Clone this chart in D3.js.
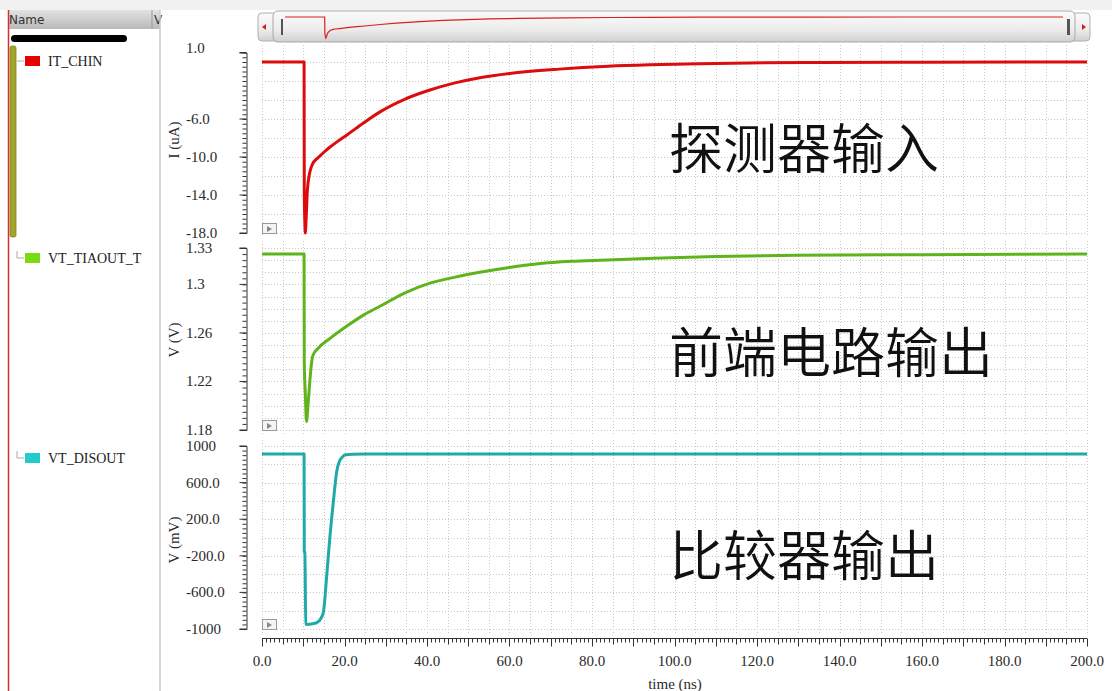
<!DOCTYPE html>
<html>
<head>
<meta charset="utf-8">
<script src="https://cdn.jsdelivr.net/npm/d3@7"></script>
<style>
  body { margin: 0; background: #fff; }
  svg { display: block; }
</style>
</head>
<body>
<svg id="chart" width="1112" height="691"></svg>
<script>
// ---------------- DATA ----------------
const seriesNames = ["IT_CHIN", "VT_TIAOUT_T", "VT_DISOUT"];
const panelTitles = ["探测器输入", "前端电路输出", "比较器输出"];
const yAxisTitles = ["I (uA)", "V (V)", "V (mV)"];
const xTickValues = [0, 20, 40, 60, 80, 100, 120, 140, 160, 180, 200];
const xTickLabels = ["0.0", "20.0", "40.0", "60.0", "80.0", "100.0", "120.0", "140.0", "160.0", "180.0", "200.0"];
const xTitle = "time (ns)";

// IT_CHIN (uA)
const chinTime = [0, 10.2, 10.25, 10.4, 10.5, 10.7, 11.0, 11.5, 12.0, 12.4, 13, 14, 15, 16.5, 18.5, 20.5, 24.5, 28.6, 34.7, 40.7, 46.8, 52.8, 60, 72, 84, 94, 106, 118, 135, 160, 200];
const chinValue = [0, 0, -13.8, -17.0, -18.0, -16.5, -13.5, -11.8, -11.0, -10.6, -10.3, -9.9, -9.5, -8.95, -8.3, -7.7, -6.45, -5.25, -3.9, -2.95, -2.2, -1.65, -1.2, -0.75, -0.45, -0.3, -0.18, -0.1, -0.05, -0.02, 0];
const chinDomain = [-18, 1];
const chinTicks = [1, -6, -10, -14, -18];
const chinTickLabels = ["1.0", "-6.0", "-10.0", "-14.0", "-18.0"];

// VT_TIAOUT_T (V)
const tiaTime = [0, 10.2, 10.25, 10.5, 10.8, 11.1, 11.5, 12.0, 12.4, 13.5, 16.5, 20.5, 24.5, 28.6, 34.7, 40.7, 46.8, 52.8, 60, 67, 75, 82, 95, 110, 130, 160, 200];
const tiaValue = [1.325, 1.325, 1.236, 1.21, 1.187, 1.198, 1.216, 1.235, 1.242, 1.247, 1.2555, 1.2655, 1.2745, 1.282, 1.293, 1.301, 1.306, 1.310, 1.314, 1.317, 1.319, 1.320, 1.3215, 1.323, 1.324, 1.3245, 1.325];
const tiaDomain = [1.18, 1.33];
const tiaTicks = [1.33, 1.3, 1.26, 1.22, 1.18];
const tiaTickLabels = ["1.33", "1.3", "1.26", "1.22", "1.18"];

// VT_DISOUT (mV)
const disTime = [0, 10.2, 10.25, 10.4, 10.6, 11, 12, 13.3, 14.2, 14.9, 15.7, 16.5, 17.3, 18.1, 18.9, 19.5, 20.1, 22, 25, 40, 200];
const disValue = [912, 912, -155, -160, -945, -950, -945, -930, -890, -811, -410, 27, 391, 719, 847, 880, 902, 910, 912, 912, 912];
const disDomain = [-1000, 1000];
const disTicks = [1000, 600, 200, -200, -600, -1000];
const disTickLabels = ["1000", "600.0", "200.0", "-200.0", "-600.0", "-1000"];

// ---------------- LAYOUT ----------------
const svg = d3.select("#chart");
const serif = "'Liberation Serif', 'DejaVu Serif', serif";
const colors = ["#dc0c0c", "#5fb41c", "#1faaaa"];
const legendColors = ["#e60000", "#77dd11", "#22cccc"];

const x = d3.scaleLinear().domain([0, 200]).range([262, 1087]);

const panels = [
  { time: chinTime, value: chinValue, domain: chinDomain, range: [233, 52.5], frame: [45, 237], ticks: chinTicks, labels: chinTickLabels, grid: 2, minor: 0.5, titleY: 140, textY: 150, legendY: 61, topShift: -5 },
  { time: tiaTime, value: tiaValue, domain: tiaDomain, range: [430, 248], frame: [241, 434], ticks: tiaTicks, labels: tiaTickLabels, grid: 0.01, minor: 0.005, titleY: 340, textY: 354, legendY: 258, topShift: 0 },
  { time: disTime, value: disValue, domain: disDomain, range: [629, 446], frame: [440, 633], ticks: disTicks, labels: disTickLabels, grid: 200, minor: 50, titleY: 540, textY: 557, legendY: 458, topShift: 0 }
];

// top strip
svg.append("rect").attr("x", 0).attr("y", 0).attr("width", 1112).attr("height", 10).attr("fill", "#f1f1f1");

// ---------------- SIDEBAR ----------------
const defs = svg.append("defs");
const hg = defs.append("linearGradient").attr("id", "hdr").attr("x1", 0).attr("x2", 0).attr("y1", 0).attr("y2", 1);
hg.append("stop").attr("offset", "0%").attr("stop-color", "#e2e2e2");
hg.append("stop").attr("offset", "100%").attr("stop-color", "#b9b9b9");
svg.append("rect").attr("x", 8).attr("y", 10).attr("width", 152).attr("height", 19).attr("fill", "url(#hdr)");
svg.append("line").attr("x1", 152).attr("x2", 152).attr("y1", 10).attr("y2", 29).attr("stroke", "#999");
svg.append("text").attr("x", 9).attr("y", 24).attr("font-family", "'DejaVu Sans', sans-serif").attr("font-size", 12).attr("fill", "#333").text("Name");
svg.append("text").attr("x", 154).attr("y", 24).attr("font-family", "'DejaVu Sans', sans-serif").attr("font-size", 12).attr("fill", "#333").text("V");
svg.append("line").attr("x1", 8.5).attr("x2", 8.5).attr("y1", 10).attr("y2", 691).attr("stroke", "#d43030").attr("stroke-width", 1.5);
svg.append("line").attr("x1", 160).attr("x2", 160).attr("y1", 10).attr("y2", 691).attr("stroke", "#c8c8c8").attr("stroke-width", 1.5);
svg.append("rect").attr("x", 11).attr("y", 35).attr("width", 116).attr("height", 7).attr("rx", 3.5).attr("fill", "#000");
svg.append("rect").attr("x", 10).attr("y", 46).attr("width", 6).attr("height", 191).attr("rx", 2).attr("fill", "#a3a52a").attr("stroke", "#808418").attr("stroke-width", 0.8);

panels.forEach((p, i) => {
  const ly = p.legendY;
  if (i === 0) {
    svg.append("line").attr("x1", 17).attr("x2", 24).attr("y1", ly).attr("y2", ly).attr("stroke", "#aaa");
  } else {
    svg.append("path").attr("d", `M17,${ly - 7}V${ly}H24`).attr("fill", "none").attr("stroke", "#aaa");
  }
  svg.append("rect").attr("x", 25).attr("y", ly - 5).attr("width", 15).attr("height", 10).attr("fill", legendColors[i]);
  svg.append("text").attr("x", 48).attr("y", ly + 5).attr("font-family", serif).attr("font-size", 14).attr("fill", "#222").text(seriesNames[i]);
});

// ---------------- SCROLLBAR ----------------
const sg = defs.append("linearGradient").attr("id", "sb").attr("x1", 0).attr("x2", 0).attr("y1", 0).attr("y2", 1);
sg.append("stop").attr("offset", "0%").attr("stop-color", "#fbfbfb");
sg.append("stop").attr("offset", "60%").attr("stop-color", "#ececec");
sg.append("stop").attr("offset", "100%").attr("stop-color", "#d0d0d0");
svg.append("rect").attr("x", 258).attr("y", 13).attr("width", 832).attr("height", 28).attr("rx", 4).attr("fill", "url(#sb)").attr("stroke", "#b0b0b0");
svg.append("rect").attr("x", 273).attr("y", 11).attr("width", 802).attr("height", 31).attr("rx", 5).attr("fill", "url(#sb)").attr("stroke", "#a8a8a8");
svg.append("path").attr("d", "M262,27 l4,-3 v6 z").attr("fill", "#d02020");
svg.append("path").attr("d", "M1086,27 l-4,-3 v6 z").attr("fill", "#d02020");
svg.append("rect").attr("x", 281).attr("y", 19).attr("width", 2).attr("height", 16).attr("fill", "#555");
svg.append("rect").attr("x", 1067).attr("y", 19).attr("width", 3).attr("height", 16).attr("fill", "#555");
const mx = d3.scaleLinear().domain([0, 200]).range([285, 1063]);
const my = d3.scaleLinear().domain([-18, 0]).range([38, 17]);
svg.append("path").datum(chinTime.map((t, k) => [t, chinValue[k]]))
  .attr("d", d3.line().x(d => mx(d[0])).y(d => my(d[1])))
  .attr("fill", "none").attr("stroke", "#d82020").attr("stroke-width", 1.2);

// ---------------- PANELS ----------------
panels.forEach((p, i) => {
  const y = d3.scaleLinear().domain(p.domain).range(p.range);
  const g = svg.append("g");
  // vertical grid every 5 ns
  g.append("g").selectAll("line").data(d3.range(0, 200.1, 5)).join("line")
    .attr("x1", d => Math.round(x(d)) + 0.5).attr("x2", d => Math.round(x(d)) + 0.5)
    .attr("y1", p.frame[0]).attr("y2", p.frame[1])
    .attr("stroke", "#c8c8c8").attr("stroke-dasharray", "1,2");
  // horizontal grid
  const hv = d3.range(Math.ceil(p.domain[0] / p.grid), Math.floor(p.domain[1] / p.grid + 1e-9) + 1).map(k => k * p.grid);
  g.append("g").selectAll("line").data(hv).join("line")
    .attr("x1", x(0)).attr("x2", x(200))
    .attr("y1", d => Math.round(y(d)) + 0.5).attr("y2", d => Math.round(y(d)) + 0.5)
    .attr("stroke", "#c8c8c8").attr("stroke-dasharray", "1,2");

  // y axis (minor ticks)
  const axisG = g.append("g").attr("transform", "translate(246.5,0)");
  const minorVals = d3.range(Math.ceil(p.domain[0] / p.minor - 1e-9), Math.floor(p.domain[1] / p.minor + 1e-9) + 1).map(k => k * p.minor);
  axisG.call(d3.axisLeft(y).tickValues(minorVals).tickSize(4).tickSizeOuter(7).tickFormat(""));
  axisG.select(".domain").attr("stroke", "#333");
  axisG.selectAll(".tick line").attr("stroke", "#333");
  axisG.append("g").selectAll("line").data(p.ticks).join("line")
    .attr("x1", -7).attr("x2", 0).attr("y1", d => y(d)).attr("y2", d => y(d)).attr("stroke", "#333");

  // tick labels (left aligned)
  g.append("g").selectAll("text").data(p.ticks).join("text")
    .attr("x", 186)
    .attr("y", (d, k) => y(d) + 5 + (k === 0 ? p.topShift : 0))
    .attr("font-family", serif).attr("font-size", 15).attr("fill", "#2a2a2a")
    .text((d, k) => p.labels[k]);

  // axis title
  g.append("text").attr("transform", `translate(179,${p.titleY}) rotate(-90)`)
    .attr("text-anchor", "middle").attr("font-family", serif).attr("font-size", 15).attr("fill", "#2a2a2a")
    .text(yAxisTitles[i]);

  // curve
  const data = p.time.map((t, k) => [t, p.value[k]]);
  g.append("path").datum(data)
    .attr("d", d3.line().x(d => x(d[0])).y(d => y(d[1])).curve(d3.curveMonotoneX))
    .attr("fill", "none").attr("stroke", colors[i]).attr("stroke-width", 3).attr("stroke-linejoin", "round");

  // small play box
  const by = p.frame[1] - 14;
  g.append("rect").attr("x", 262.5).attr("y", by + 0.5).attr("width", 14).attr("height", 10).attr("fill", "#f4f4f4").attr("stroke", "#999");
  g.append("path").attr("d", `M267,${by + 3} l5,3 l-5,3 z`).attr("fill", "#888");

  // Chinese annotation
  g.append("text").attr("x", 669).attr("y", p.textY + 19)
    .attr("font-family", "'Noto Sans CJK SC', sans-serif").attr("font-size", 54).attr("font-weight", 350).attr("fill", "#111")
    .text(panelTitles[i]);
});

// ---------------- X AXIS ----------------
const xg = svg.append("g").attr("transform", "translate(0,638.5)");
xg.append("line").attr("x1", x(0)).attr("x2", x(200)).attr("y1", 0).attr("y2", 0).attr("stroke", "#333");
xg.selectAll("line.t").data(d3.range(0, 201, 1)).join("line").attr("class", "t")
  .attr("x1", d => Math.round(x(d)) + 0.5).attr("x2", d => Math.round(x(d)) + 0.5)
  .attr("y1", 0).attr("y2", d => d % 10 === 0 ? 8 : (d % 5 === 0 ? 6 : 4))
  .attr("stroke", "#333");
xg.selectAll("text").data(xTickValues).join("text")
  .attr("x", d => x(d)).attr("y", 27)
  .attr("text-anchor", "middle").attr("font-family", serif).attr("font-size", 15).attr("fill", "#2a2a2a")
  .text((d, k) => xTickLabels[k]);
svg.append("text").attr("x", 675).attr("y", 689).attr("text-anchor", "middle")
  .attr("font-family", serif).attr("font-size", 15).attr("fill", "#2a2a2a").text(xTitle);
</script>
</body>
</html>
